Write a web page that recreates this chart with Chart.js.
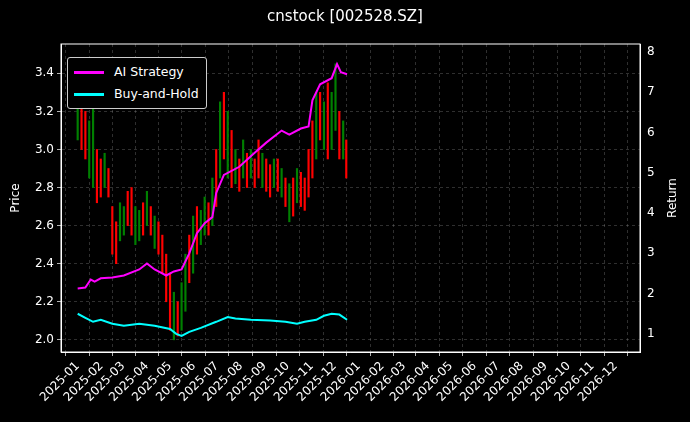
<!DOCTYPE html><html><head><meta charset="utf-8">
<script src="https://cdn.jsdelivr.net/npm/chart.js@4"></script>
<style>html,body{margin:0;background:#000;width:690px;height:422px;overflow:hidden;font-family:"DejaVu Sans",sans-serif}
#wrap{position:relative;width:690px;height:422px}
#lg{position:absolute;left:67px;top:57px;border:1px solid #ccc;border-radius:3px;padding:3px 7px 3px 6px;color:#fff;font-size:12.5px;line-height:22px;background:#000}
#lg span.s{display:inline-block;width:30px;height:3px;vertical-align:middle;margin-right:10px}
</style></head><body><div id="wrap"><canvas id="c" width="690" height="422"></canvas>
<div id="lg"><div><span class="s" style="background:#ff00ff"></span>AI Strategy</div><div><span class="s" style="background:#00ffff"></span>Buy-and-Hold</div></div></div>
<script>
const monthLabels=["2025-01","2025-02","2025-03","2025-04","2025-05","2025-06","2025-07","2025-08","2025-09","2025-10","2025-11","2025-12","2026-01","2026-02","2026-03","2026-04","2026-05","2026-06","2026-07","2026-08","2026-09","2026-10","2026-11","2026-12"];
const candleDays=[0,5,10,15,20,25,30,35,40,45,50,55,60,65,70,75,80,85,90,95,100,105,110,115,120,125,130,135,140,145,150,155,160,165,170,175,180,185,190,195,200,205,210,215,220,225,230,235,240,245,250,255,260,265,270,275,280,285,290,295,300,305,310,315,320,325,330,335,340,345,349];
const candleLow=[3.05,3.0,2.95,2.85,2.8,2.72,2.75,2.8,2.75,2.45,2.4,2.52,2.55,2.6,2.55,2.5,2.52,2.55,2.6,2.55,2.48,2.45,2.35,2.2,2.05,2.0,2.02,2.05,2.15,2.3,2.35,2.45,2.5,2.55,2.55,2.6,2.7,2.85,2.95,2.85,2.8,2.82,2.78,2.85,2.8,2.85,2.8,2.85,2.8,2.78,2.75,2.8,2.78,2.75,2.7,2.62,2.65,2.72,2.7,2.68,2.75,2.85,2.95,3.05,3.0,2.95,3.0,3.1,2.95,2.95,2.85];
const candleHigh=[3.38,3.25,3.2,3.15,3.3,3.0,2.95,2.98,2.9,2.7,2.62,2.72,2.7,2.78,2.8,2.7,2.68,2.72,2.78,2.7,2.65,2.62,2.55,2.45,2.35,2.25,2.2,2.3,2.45,2.55,2.65,2.7,2.68,2.75,2.72,2.85,3.0,3.25,3.3,3.2,3.1,3.0,2.95,3.05,2.98,3.0,2.95,3.05,2.98,2.95,2.92,2.95,2.95,2.9,2.85,2.82,2.85,2.9,2.88,2.85,3.0,3.15,3.3,3.3,3.25,3.35,3.3,3.45,3.2,3.15,3.05];
const candleUp=[1,0,0,1,1,0,0,1,0,0,0,1,1,0,0,1,1,0,1,0,1,0,0,0,0,1,0,1,1,0,1,0,1,1,0,1,0,1,0,1,0,1,0,1,0,1,0,0,1,0,0,1,0,1,0,1,0,1,0,0,0,0,1,0,1,0,1,1,0,1,0];
const aiDays=[0,10,17,22,30,45,60,80,90,100,105,115,125,135,145,155,165,175,180,190,210,230,245,265,275,290,300,305,315,330,337,342,350];
const aiReturn=[2.13,2.15,2.35,2.3,2.38,2.4,2.45,2.6,2.75,2.6,2.55,2.45,2.55,2.6,3.0,3.5,3.75,3.9,4.5,4.95,5.15,5.5,5.75,6.05,5.95,6.1,6.15,6.8,7.2,7.35,7.7,7.5,7.45];
const bhDays=[0,10,20,30,45,60,80,100,120,128,135,145,160,180,195,205,225,250,270,285,295,310,320,330,340,350];
const bhReturn=[1.5,1.4,1.3,1.35,1.25,1.2,1.25,1.2,1.12,1.0,0.95,1.05,1.15,1.3,1.42,1.38,1.35,1.33,1.3,1.25,1.3,1.35,1.45,1.5,1.48,1.35];

const base=Date.UTC(2025,0,1);
const monthDays=monthLabels.map(m=>{const[y,mo]=m.split('-').map(Number);return (Date.UTC(y,mo-1,1)-base)/864e5;});
const grid={color:'rgba(150,150,150,0.45)',drawTicks:true,tickColor:'#fff',tickLength:4,lineWidth:0.7};
const frame={id:'frame',afterDraw(c){const a=c.chartArea,x=c.ctx;x.save();x.strokeStyle='#fff';x.lineWidth=1;x.strokeRect(a.left,a.top,a.right-a.left,a.bottom-a.top);
 x.fillStyle='#fff';x.font='12px "DejaVu Sans"';x.textAlign='center';x.textBaseline='middle';
 x.save();x.translate(673,(a.top+a.bottom)/2);x.rotate(-Math.PI/2);x.fillText('Return',0,0);x.restore();
 x.translate(16,(a.top+a.bottom)/2);x.rotate(-Math.PI/2);x.fillText('Price',0,0);x.restore();}};
new Chart(document.getElementById('c'),{
 data:{datasets:[
  {type:'line',label:'AI Strategy',yAxisID:'yr',data:aiDays.map((d,i)=>({x:d,y:aiReturn[i]})),borderColor:'#ff00ff',borderWidth:2,pointRadius:0,tension:0,order:0},
  {type:'line',label:'Buy-and-Hold',yAxisID:'yr',data:bhDays.map((d,i)=>({x:d,y:bhReturn[i]})),borderColor:'#00ffff',borderWidth:2,pointRadius:0,tension:0,order:1},
  {type:'bar',label:'Price',yAxisID:'y',data:candleDays.map((d,i)=>({x:d,y:[candleLow[i],candleHigh[i]]})),backgroundColor:candleUp.map(u=>u?'#008000':'#ff0000'),barThickness:1.5,grouped:false,order:2}
 ]},
 plugins:[frame],
 options:{animation:false,responsive:false,
  layout:{padding:{top:0,right:0,left:0,bottom:0}},
  plugins:{legend:{display:false},tooltip:{enabled:false},
   title:{display:true,text:'cnstock [002528.SZ]',color:'#fff',font:{size:15,family:'DejaVu Sans',weight:'normal'},padding:{top:8,bottom:18}}},
  scales:{
   x:{type:'linear',min:-6,max:715,grid:grid,border:{color:'#fff',dash:[3,3]},
    afterBuildTicks:a=>{a.ticks=monthDays.map(v=>({value:v}));},
    afterFit:a=>{a.height=70;},
    ticks:{color:'#fff',font:{size:12,family:'DejaVu Sans'},maxRotation:45,minRotation:45,autoSkip:false,
     callback:(v)=>{const i=monthDays.indexOf(v);return i>=0?monthLabels[i]:'';}}},
   y:{position:'left',min:1.936,max:3.554,grid:grid,border:{color:'#fff',dash:[3,3]},
    afterBuildTicks:a=>{a.ticks=[2.0,2.2,2.4,2.6,2.8,3.0,3.2,3.4].map(v=>({value:v}));},
    afterFit:a=>{a.width=61;},
    ticks:{color:'#fff',font:{size:12,family:'DejaVu Sans'},callback:v=>v.toFixed(1)}},
   yr:{position:'right',min:0.55,max:8.2,grid:{display:false,tickColor:'#fff',tickLength:4},border:{color:'#fff'},
    afterBuildTicks:a=>{a.ticks=[1,2,3,4,5,6,7,8].map(v=>({value:v}));},
    afterFit:a=>{a.width=50;},
    ticks:{color:'#fff',font:{size:12,family:'DejaVu Sans'}}}
  }}
});
</script></body></html>
